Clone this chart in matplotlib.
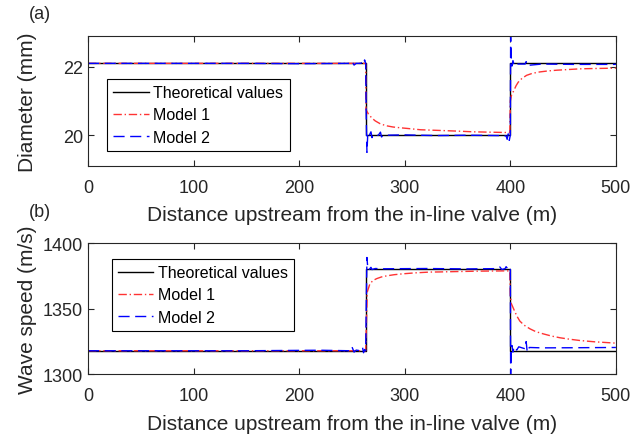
import matplotlib
matplotlib.use('Agg')
import matplotlib.pyplot as plt

plt.rcParams['font.family'] = ['Liberation Sans', 'DejaVu Sans']

# theoretical step profiles
x_theory = [0, 263, 263, 400, 400, 500]
d_theory = [22.1, 22.1, 20.0, 20.0, 22.1, 22.1]
a_theory = [1318, 1318, 1380, 1380, 1318, 1318]

# Model 1 - diameter (mm)
x_m1_d = [0, 263, 263.3, 265.4, 268.6, 272, 276.5, 282, 289, 295, 302, 315, 333, 350, 365, 380, 396, 399.5,
          400, 401, 403.4, 405.5, 407.5, 411, 415.4, 421, 428, 436, 444, 455, 466, 480, 500]
d_m1 = [22.1, 22.1, 20.75, 20.63, 20.51, 20.42, 20.34, 20.28, 20.24, 20.22, 20.2, 20.16, 20.14, 20.12, 20.1, 20.09, 20.08, 20.08,
        21.0, 21.16, 21.31, 21.45, 21.55, 21.66, 21.75, 21.81, 21.85, 21.88, 21.9, 21.92, 21.94, 21.95, 21.96]

# Model 1 - wave speed (m/s)
x_m1_a = [0, 263, 264.5, 267, 270, 273.4, 278, 282.8, 290, 298.6, 310, 323.9, 333, 350, 370, 396.5, 399.5,
          400, 401, 404.4, 406.5, 409, 413, 418.6, 424, 431, 439, 447, 456, 466, 480, 500]
a_m1 = [1318, 1318, 1362.7, 1369, 1371.5, 1372.9, 1374.2, 1375, 1375.9, 1376.6, 1377.3, 1377.9, 1378, 1378.3, 1378.6, 1378.8, 1378.8,
        1360, 1353.8, 1347.5, 1344, 1340.6, 1337.5, 1334.7, 1332.6, 1330.9, 1329.2, 1327.9, 1326.8, 1325.8, 1324.8, 1323.8]

# Model 2 - diameter (mm)
x_m2_d = [0, 150, 200, 248, 250, 252, 254, 258, 260, 261, 262, 263, 263.5, 264.2, 265, 266, 268, 269, 270, 275, 277, 278, 280,
          300, 330, 360, 390, 396, 397, 398, 399, 400, 400.3, 400.8, 401.5, 402.5, 403.5, 404.5, 406, 414, 415, 416,
          430, 460, 500]
d_m2 = [22.1, 22.1, 22.09, 22.1, 22.16, 22.05, 22.1, 22.1, 22.13, 22.08, 22.2, 22.1, 20.6, 19.5, 20.05, 19.97, 20.1, 19.93, 20.0, 20.0, 20.09, 19.95, 20.0,
        20.01, 19.99, 20.0, 19.99, 19.98, 19.88, 20.04, 19.85, 20.0, 22.9, 22.3, 22.02, 22.18, 22.05, 22.1, 22.08, 22.08, 22.15, 22.04,
        22.08, 22.07, 22.07]

# Model 2 - wave speed (m/s)
x_m2_a = [0, 150, 220, 248, 250, 252, 254, 258, 260, 261, 262, 263, 263.5, 264.2, 265, 266, 268, 269, 272, 280,
          320, 360, 385, 390, 392, 395, 396, 398, 399, 400, 400.3, 400.8, 401.5, 402.5, 403.5, 404.4, 406, 408, 414, 415, 416, 418,
          430, 460, 500]
a_m2 = [1318, 1318, 1318.4, 1318, 1321, 1317, 1318.5, 1318, 1320.5, 1316.5, 1319, 1318, 1350, 1389, 1381, 1379.5, 1381.5, 1379.8, 1380.6, 1380.4,
        1380.6, 1380.3, 1380.5, 1381.8, 1379.8, 1380.5, 1382, 1380, 1381.5, 1380, 1300, 1315, 1322, 1317, 1321, 1320.8, 1318.5, 1321, 1319.5, 1325, 1317, 1320.5,
        1320.2, 1320.3, 1320.5]

x_ticks = [0, 100, 200, 300, 400, 500]
xlabel = 'Distance upstream from the in-line valve (m)'
labels = ['Theoretical values', 'Model 1', 'Model 2']

fig = plt.figure(figsize=(6.33, 4.35), dpi=100)
ax1 = fig.add_axes([0.139, 0.616, 0.834, 0.299])
ax2 = fig.add_axes([0.139, 0.137, 0.834, 0.302])

red = '#ff3333'
blue = '#0000ff'
gray = '#262626'

panels = [
    (ax1, d_theory, x_m1_d, d_m1, x_m2_d, d_m2, 'Diameter (mm)', (19.1, 22.9), [20, 22], (0.036, 0.67), '(a)', 1.169),
    (ax2, a_theory, x_m1_a, a_m1, x_m2_a, a_m2, 'Wave speed (m/s)', (1300, 1400), [1300, 1350, 1400], (0.045, 0.88), '(b)', 1.24),
]

for ax, th, xm1, ym1, xm2, ym2, ylab, ylim, yticks, legpos, tag, tag_y in panels:
    ax.plot(x_theory, th, color='k', lw=1.0, label=labels[0])
    ax.plot(xm1, ym1, color=red, lw=1.0, ls='-.', dashes=(6, 2, 1, 2), label=labels[1])
    ax.plot(xm2, ym2, color=blue, lw=1.0, ls='--', dashes=(8, 4), label=labels[2])
    ax.set_xlim(0, 500)
    ax.set_ylim(*ylim)
    ax.set_xticks(x_ticks)
    ax.set_yticks(yticks)
    ax.tick_params(direction='in', top=True, right=True, labelsize=13, colors=gray, length=4, width=0.8)
    ax.tick_params(axis='x', pad=9)
    ax.set_xlabel(xlabel, fontsize=15, color=gray, labelpad=7)
    ax.set_ylabel(ylab, fontsize=15, color=gray)
    ax.yaxis.set_label_coords(-0.096, 0.5)
    for s in ax.spines.values():
        s.set_color(gray)
        s.set_linewidth(0.8)
    leg = ax.legend(loc='upper left', bbox_to_anchor=legpos, borderaxespad=0, fontsize=11.5,
                    handlelength=2.2, labelspacing=0.45, fancybox=False, framealpha=1,
                    edgecolor='k', borderpad=0.4, handletextpad=0.3)
    leg.get_frame().set_linewidth(0.8)
    ax.text(-0.112, tag_y, tag, transform=ax.transAxes, fontsize=13, color=gray, ha='left', va='center')

fig.savefig('out.png', dpi=100)
